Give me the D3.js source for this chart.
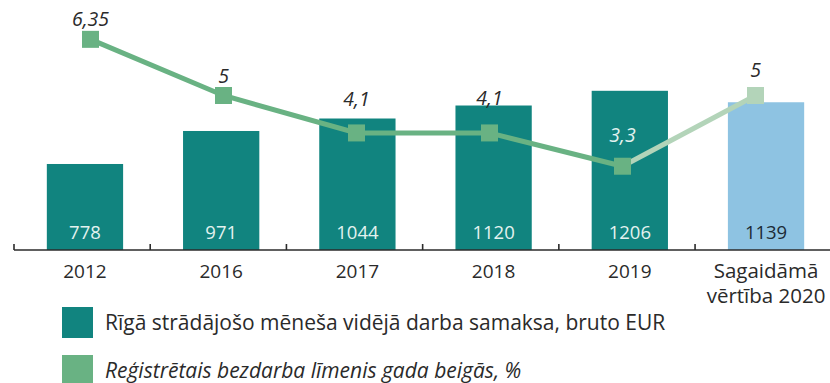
<!DOCTYPE html>
<html>
<head>
<meta charset="utf-8">
<script src="https://cdn.jsdelivr.net/npm/d3@7"></script>
<style>
  html, body { margin: 0; padding: 0; background: #fff; }
  svg { display: block; font-family: "Open Sans", "Noto Sans", sans-serif; }
</style>
</head>
<body>
<svg id="chart" width="830" height="383"></svg>
<script>
// Categories (two-line label for the forecast year)
const categories = ["2012", "2016", "2017", "2018", "2019", "2020p"];
const categoryLabels = [["2012"], ["2016"], ["2017"], ["2018"], ["2019"], ["Sagaidāmā", "vērtība 2020"]];
// Average gross monthly wage in Riga, EUR
const wages = [778, 971, 1044, 1120, 1206, 1139];
// Registered unemployment rate at year end, %
const unemployment = [6.35, 5, 4.1, 4.1, 3.3, 5];
const unemploymentLabels = ["6,35", "5", "4,1", "4,1", "3,3", "5"];
const forecastFlags = [false, false, false, false, false, true];
const legendLabels = ["Rīgā strādājošo mēneša vidējā darba samaksa, bruto EUR",
                      "Reģistrētais bezdarba līmenis gada beigās, %"];

// Layout: how far each rate label sits above its marker
const rateLabelLift = [20, 19, 34, 35, 31, 25];

const colors = {
  bar: "#11847f", barForecast: "#8ec3e2",
  line: "#69b283", lineForecast: "#b3d4b9",
  axis: "#2b2b2b", text: "#2a2a2a", barText: "#e3f2ef"
};

const svg = d3.select("#chart");
const axisY = 250;

const x = d3.scaleBand().domain(categories).range([14, 834])
  .paddingInner(0.44).paddingOuter(0.23);
const y = d3.scaleLinear().domain([275, 1737]).range([axisY, 0]);
const xLine = d3.scalePoint().domain(categories).range([90.5, 755.5]);
const yLine = d3.scaleLinear().domain([0, 10]).range([303.5, -112.5]);

const data = categories.map((c, i) => ({
  c, i, wage: wages[i], rate: unemployment[i], rateLabel: unemploymentLabels[i], forecast: forecastFlags[i]
}));
const barCenter = d => x(d.c) + 1.5 + x.bandwidth() / 2;

// Bars
svg.append("g").selectAll("rect").data(data).join("rect")
  .attr("x", d => x(d.c) + 1.5)
  .attr("width", x.bandwidth())
  .attr("y", d => y(d.wage))
  .attr("height", d => axisY - y(d.wage))
  .attr("fill", d => d.forecast ? colors.barForecast : colors.bar);

// Bar values
svg.append("g").selectAll("text").data(data).join("text")
  .attr("x", barCenter)
  .attr("y", axisY - 17)
  .attr("dy", "0.35em")
  .attr("text-anchor", "middle")
  .attr("font-size", 18.5)
  .attr("fill", d => d.forecast ? "#1c2a35" : colors.barText)
  .text(d => d.wage);

// Axis line with ticks at band boundaries
const axisG = svg.append("g");
axisG.append("line").attr("x1", 14).attr("x2", 830).attr("y1", axisY).attr("y2", axisY)
  .attr("stroke", colors.axis).attr("stroke-width", 1.6);
axisG.selectAll("line.tick").data(categories.map((c, i) => 14 + i * x.step())).join("line")
  .attr("class", "tick")
  .attr("x1", d => d).attr("x2", d => d)
  .attr("y1", axisY - 6).attr("y2", axisY)
  .attr("stroke", colors.axis).attr("stroke-width", 1.6);

// Category labels
svg.append("g").selectAll("text").data(data).join("text")
  .attr("text-anchor", "middle")
  .attr("fill", colors.text)
  .each(function(d) {
    const t = d3.select(this);
    const lines = categoryLabels[d.i];
    t.attr("font-size", lines.length > 1 ? 20.5 : 19);
    lines.forEach((line, k) => {
      t.append("tspan")
        .attr("x", barCenter(d))
        .attr("y", 271 + k * 25)
        .attr("dy", "0.35em")
        .text(line);
    });
  });

// Unemployment line
const lineGen = d3.line().x(d => xLine(d.c)).y(d => yLine(d.rate));
const actual = data.filter(d => !d.forecast);
const lastActual = actual[actual.length - 1];
const forecastSeg = [lastActual].concat(data.filter(d => d.forecast));

svg.append("path").datum(forecastSeg).attr("d", lineGen)
  .attr("fill", "none").attr("stroke", colors.lineForecast).attr("stroke-width", 5);
svg.append("path").datum(actual).attr("d", lineGen)
  .attr("fill", "none").attr("stroke", colors.line).attr("stroke-width", 5);

const m = 17;
svg.append("g").selectAll("rect").data(data).join("rect")
  .attr("x", d => xLine(d.c) - m / 2)
  .attr("y", d => yLine(d.rate) - m / 2)
  .attr("width", m).attr("height", m)
  .attr("fill", d => d.forecast ? colors.lineForecast : colors.line);

// Line value labels
svg.append("g").selectAll("text").data(data).join("text")
  .attr("x", d => xLine(d.c))
  .attr("y", d => yLine(d.rate) - rateLabelLift[d.i])
  .attr("dy", "0.35em")
  .attr("text-anchor", "middle")
  .attr("font-size", 19.5)
  .attr("font-style", "italic")
  .attr("fill", d => d.c === "2019" ? colors.barText : colors.text)
  .text(d => d.rateLabel);

// Legend
const legend = svg.append("g");
const legendItems = [
  { label: legendLabels[0], color: colors.bar, italic: false, y: 307 },
  { label: legendLabels[1], color: colors.line, italic: true, y: 355 }
];
legendItems.forEach(it => {
  legend.append("rect").attr("x", 62).attr("y", it.y).attr("width", 31).attr("height", 31)
    .attr("fill", it.color);
  legend.append("text").attr("x", 105).attr("y", it.y + 15.5).attr("dy", "0.35em")
    .attr("font-size", 21)
    .attr("font-style", it.italic ? "italic" : "normal")
    .attr("fill", colors.text)
    .text(it.label);
});
</script>
</body>
</html>
